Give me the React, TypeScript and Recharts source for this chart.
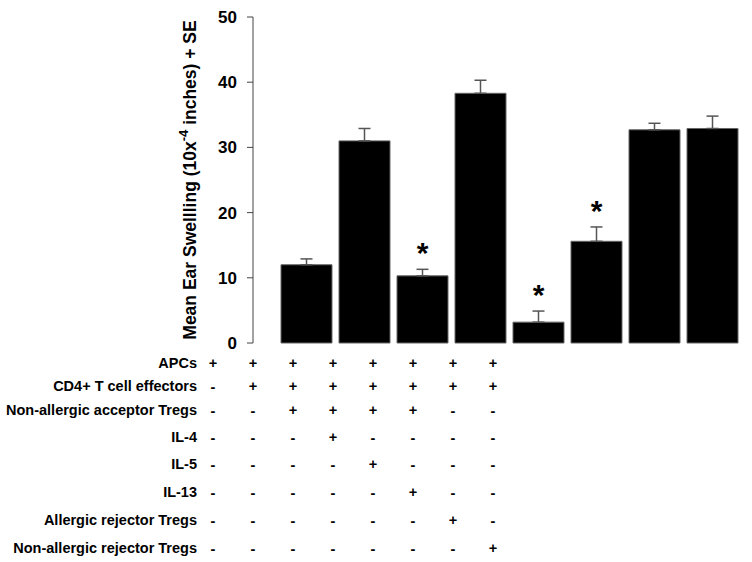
import { Bar, BarChart, Customized, ErrorBar, LabelList, XAxis, YAxis } from "recharts";

const groups = ["1", "2", "3", "4", "5", "6", "7", "8"];
const meanSwelling = [12.0, 31.0, 10.3, 38.3, 3.2, 15.6, 32.7, 32.9];
const stdErr = [0.9, 1.9, 1.0, 2.0, 1.7, 2.2, 1.0, 1.9];
const significant = ["", "", "*", "", "*", "*", "", ""];
const yTicks = [0, 10, 20, 30, 40, 50];

const rowLabels = [
  "APCs",
  "CD4+ T cell effectors",
  "Non-allergic acceptor Tregs",
  "IL-4",
  "IL-5",
  "IL-13",
  "Allergic rejector Tregs",
  "Non-allergic rejector Tregs",
];
const rowSigns = [
  ["+", "+", "+", "+", "+", "+", "+", "+"],
  ["-", "+", "+", "+", "+", "+", "+", "+"],
  ["-", "-", "+", "+", "+", "+", "-", "-"],
  ["-", "-", "-", "+", "-", "-", "-", "-"],
  ["-", "-", "-", "-", "+", "-", "-", "-"],
  ["-", "-", "-", "-", "-", "+", "-", "-"],
  ["-", "-", "-", "-", "-", "-", "+", "-"],
  ["-", "-", "-", "-", "-", "-", "-", "+"],
];

const data = groups.map((g, i) => ({
  group: g,
  mean: meanSwelling[i],
  err: [0, stdErr[i]],
  mark: significant[i],
}));

const FONT = "'Liberation Sans', Arial, sans-serif";

// the treatment table under the plot (columns don't line up with the bars)
const rowY = [363, 386, 410, 437, 464, 492, 520, 548];
const labelRight = 197;
const colStart = 213;
const colStep = 40;

function TreatmentTable() {
  return (
    <g fontFamily={FONT} fontWeight={700} fontSize={14.5} fill="#000">
      {rowLabels.map((label, r) => (
        <g key={label}>
          <text x={labelRight} y={rowY[r]} textAnchor="end" dominantBaseline="central">
            {label}
          </text>
          {rowSigns[r].map((s, c) => (
            <text
              key={c}
              x={colStart + c * colStep}
              y={rowY[r] + (s === "-" ? 1 : 0)}
              textAnchor="middle"
              dominantBaseline="central"
            >
              {s}
            </text>
          ))}
        </g>
      ))}
    </g>
  );
}

function YTitle() {
  return (
    <text
      transform="translate(190,180) rotate(-90)"
      textAnchor="middle"
      dominantBaseline="central"
      fontFamily={FONT}
      fontWeight={700}
      fontSize={17.5}
      fill="#000"
    >
      Mean Ear Swellling (10x
      <tspan dy={-7} fontSize={13}>-4</tspan>
      <tspan dy={7}> inches) + SE</tspan>
    </text>
  );
}

function Star(props: any) {
  const { x, y, width, height, value, index } = props;
  if (!value) return null;
  const pxPerUnit = height / meanSwelling[index];
  const top = y - stdErr[index] * pxPerUnit;
  return (
    <text
      x={x + width / 2}
      y={top - 6}
      textAnchor="middle"
      fontFamily={FONT}
      fontWeight={700}
      fontSize={30}
      fill="#000"
    >
      {value}
    </text>
  );
}

export default function App() {
  return (
    <div style={{ position: "absolute", left: 0, top: 0, width: 752, height: 562, background: "#fff" }}>
      <BarChart
        width={752}
        height={562}
        data={data}
        margin={{ top: 17, right: 11, bottom: 219, left: 0 }}
      >
        <XAxis
          dataKey="group"
          height={0}
          tick={false}
          tickLine={false}
          axisLine={{ stroke: "#444", strokeWidth: 1 }}
          padding={{ left: 24, right: 0 }}
        />
        <YAxis
          width={253}
          domain={[0, 50]}
          ticks={yTicks}
          interval={0}
          tickSize={6}
          tickMargin={10}
          axisLine={{ stroke: "#444", strokeWidth: 1 }}
          tickLine={{ stroke: "#444", strokeWidth: 1 }}
          tick={{ fill: "#000", fontSize: 17, fontWeight: 700, fontFamily: FONT }}
        />
        <Bar
          dataKey="mean"
          fill="#000"
          stroke="#666"
          strokeWidth={1}
          barSize={51}
          isAnimationActive={false}
        >
          <ErrorBar dataKey="err" direction="y" width={6} stroke="#555" strokeWidth={1.5} />
          <LabelList dataKey="mark" content={<Star />} />
        </Bar>
        <Customized component={<YTitle />} />
        <Customized component={<TreatmentTable />} />
      </BarChart>
    </div>
  );
}
